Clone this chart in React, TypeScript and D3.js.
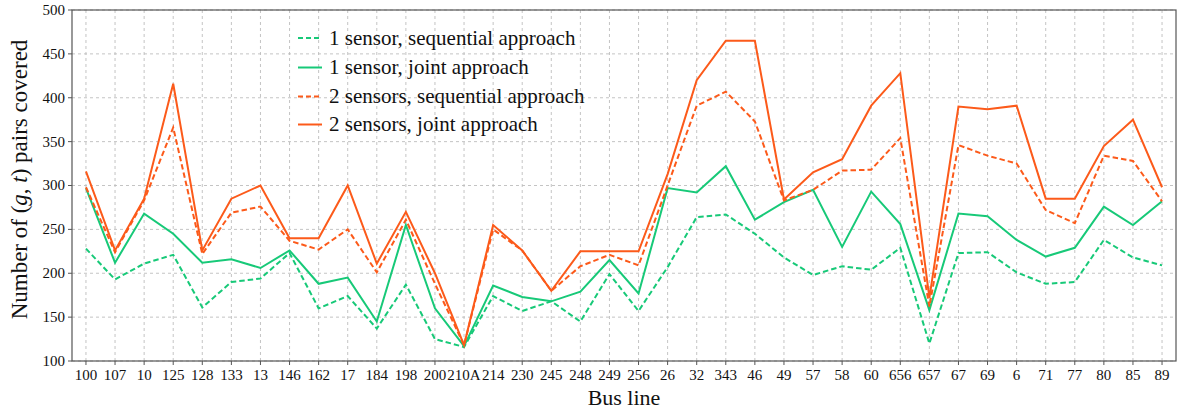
import React from "react";
import * as d3 from "d3";

const categories = ["100","107","10","125","128","133","13","146","162","17","184","198","200","210A","214","230","245","248","249","256","26","32","343","46","49","57","58","60","656","657","67","69","6","71","77","80","85","89"];

const oneSeq = [228,193,211,221,161,190,194,223,160,174,137,187,125,116,174,157,168,145,199,157,207,264,267,245,218,198,208,204,229,120,223,224,201,188,190,238,218,209];
const oneJoint = [297,212,268,245,212,216,206,226,188,195,145,255,160,117,186,173,168,179,215,177,297,292,322,261,281,295,230,293,256,158,268,265,238,219,229,276,255,282];
const twoSeq = [298,224,283,366,222,269,276,237,227,250,201,261,188,118,250,226,180,208,221,209,300,391,407,373,283,295,317,318,354,162,346,334,325,272,257,334,328,282];
const twoJoint = [316,226,285,416,226,285,300,240,240,300,211,270,200,118,255,226,180,225,225,225,313,420,465,465,284,315,330,391,428,172,390,387,391,285,285,345,375,298];

const yTicks = [100,150,200,250,300,350,400,450,500];

const legendLabels = [
  "1 sensor, sequential approach",
  "1 sensor, joint approach",
  "2 sensors, sequential approach",
  "2 sensors, joint approach",
];

const GREEN = "#17c978";
const ORANGE = "#fc5a1a";

export default function App() {
  const W = 1177, H = 410;
  const left = 72, right = 1176, top = 10, bottom = 361;
  const x = d3.scalePoint<string>().domain(categories).range([left, right]).padding(0.48);
  const y = d3.scaleLinear().domain([100, 500]).range([bottom, top]);
  const line = d3.line<number>().x((_, i) => x(categories[i]) as number).y((d) => y(d));

  const series = [
    { data: oneSeq, color: GREEN, dash: "5.5,3" },
    { data: oneJoint, color: GREEN, dash: undefined },
    { data: twoSeq, color: ORANGE, dash: "5.5,3" },
    { data: twoJoint, color: ORANGE, dash: undefined },
  ];

  const font = "'Liberation Serif', 'Times New Roman', serif";
  const legendY = [38, 67.5, 96.5, 124.5];

  return (
    <svg width={W} height={H} style={{ position: "absolute", left: 0, top: 0, background: "#fff" }} fontFamily={font}>
      <rect x={0} y={0} width={W} height={H} fill="#fff" />
      {categories.map((c) => (
        <line key={"gx" + c} x1={x(c)} x2={x(c)} y1={top} y2={bottom} stroke="#bdbdbd" strokeWidth={0.9} strokeDasharray="3,3" />
      ))}
      {yTicks.map((t) => (
        <line key={"gy" + t} x1={left} x2={right} y1={y(t)} y2={y(t)} stroke="#bdbdbd" strokeWidth={0.9} strokeDasharray="3,3" />
      ))}
      {series.map((s, i) => (
        <path key={i} d={line(s.data) || ""} fill="none" stroke={s.color} strokeWidth={2} strokeDasharray={s.dash} strokeLinejoin="miter" />
      ))}
      <rect x={left} y={top} width={right - left} height={bottom - top} fill="none" stroke="#555" strokeWidth={1.2} />
      {yTicks.map((t) => (
        <g key={"yt" + t}>
          <line x1={left - 4} x2={left} y1={y(t)} y2={y(t)} stroke="#555" strokeWidth={1} />
          <text x={left - 7} y={y(t)} dy="0.33em" textAnchor="end" fontSize={15} fill="#111">{t}</text>
        </g>
      ))}
      {categories.map((c) => (
        <g key={"xt" + c}>
          <line x1={x(c)} x2={x(c)} y1={bottom} y2={bottom + 4} stroke="#555" strokeWidth={1} />
          <text x={x(c)} y={bottom + 19} textAnchor="middle" fontSize={15} fill="#111">{c}</text>
        </g>
      ))}
      <text x={624} y={405} textAnchor="middle" fontSize={22} fill="#111">Bus line</text>
      <text transform={`translate(27, ${(top + bottom) / 2 - 6}) rotate(-90)`} textAnchor="middle" fontSize={23} fill="#111">
        Number of (<tspan fontStyle="italic">g</tspan>, <tspan fontStyle="italic">t</tspan>) pairs covered
      </text>
      {series.map((s, i) => (
        <g key={"lg" + i}>
          <line x1={298} x2={322} y1={legendY[i]} y2={legendY[i]} stroke={s.color} strokeWidth={2} strokeDasharray={s.dash ? "5,3" : undefined} />
          <text x={329} y={legendY[i]} dy="0.33em" fontSize={21} fill="#111">{legendLabels[i]}</text>
        </g>
      ))}
    </svg>
  );
}
